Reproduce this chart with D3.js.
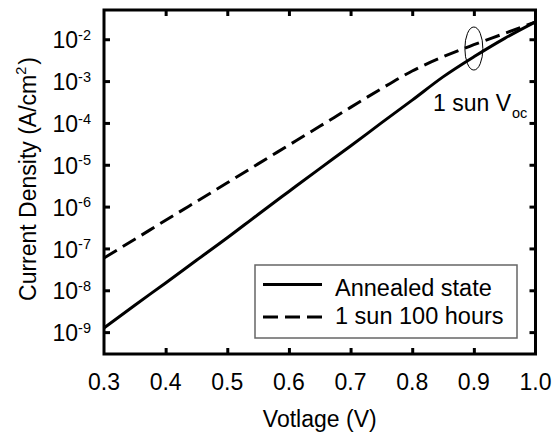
<!DOCTYPE html>
<html>
<head>
<meta charset="utf-8">
<script src="https://cdn.jsdelivr.net/npm/d3@7"></script>
<style>
  body { margin: 0; background: #fff; }
  text { font-family: "Liberation Sans", Arial, sans-serif; fill: #000; }
</style>
</head>
<body>
<svg id="chart" width="555" height="432"></svg>
<script>
// values
var voltage = [0.30, 0.35, 0.40, 0.45, 0.50, 0.55, 0.60, 0.65, 0.70, 0.75, 0.80, 0.85, 0.90, 0.95, 1.00];
var annealed = [1.26e-9, 4.4e-9, 1.5e-8, 5.2e-8, 1.8e-7, 6.5e-7, 2.3e-6, 8.1e-6, 2.8e-5, 1.0e-4, 3.5e-4, 1.26e-3, 3.8e-3, 1.05e-2, 2.6e-2];
var oneSun100h = [5.9e-8, 1.66e-7, 4.7e-7, 1.32e-6, 3.7e-6, 1.05e-5, 2.95e-5, 8.3e-5, 2.35e-4, 6.6e-4, 1.74e-3, 3.8e-3, 7.4e-3, 1.38e-2, 2.6e-2];
var xTicks = [0.3, 0.4, 0.5, 0.6, 0.7, 0.8, 0.9, 1.0];
var yExponents = [-9, -8, -7, -6, -5, -4, -3, -2];
var legendNames = ["Annealed state", "1 sun 100 hours"];

// plot box (note: "top" is a reserved window property, so use other names)
var pLeft = 104, pRight = 535.5, pTop = 10, pBottom = 354;
var svg = d3.select("#chart");

var x = d3.scaleLinear().domain([0.3, 1.0]).range([pLeft, pRight]);
var y = d3.scaleLog().domain([3e-10, 5e-2]).range([pBottom, pTop]);

// inward ticks on all four sides
svg.append("g").attr("transform", "translate(0," + pBottom + ")")
  .call(d3.axisBottom(x).tickValues(xTicks.slice(1, -1)).tickSize(-6).tickFormat(""));
svg.append("g").attr("transform", "translate(0," + pTop + ")")
  .call(d3.axisTop(x).tickValues(xTicks.slice(1, -1)).tickSize(-6).tickFormat(""));
var yTickVals = yExponents.map(function(e) { return Math.pow(10, e); });
svg.append("g").attr("transform", "translate(" + pLeft + ",0)")
  .call(d3.axisLeft(y).tickValues(yTickVals).tickSize(-6).tickFormat(""));
svg.append("g").attr("transform", "translate(" + pRight + ",0)")
  .call(d3.axisRight(y).tickValues(yTickVals).tickSize(-6).tickFormat(""));
svg.selectAll(".domain").remove();
svg.selectAll(".tick line").attr("stroke", "#000").attr("stroke-width", 3);

// frame
svg.append("rect")
  .attr("x", pLeft).attr("y", pTop)
  .attr("width", pRight - pLeft).attr("height", pBottom - pTop)
  .attr("fill", "none").attr("stroke", "#000").attr("stroke-width", 3);

// x tick labels
svg.selectAll(".xlab").data(xTicks).enter().append("text")
  .attr("class", "xlab")
  .attr("x", function(d) { return x(d); })
  .attr("y", 389.5)
  .attr("text-anchor", "middle")
  .attr("font-size", "23px")
  .text(function(d) { return d.toFixed(1); });

// y tick labels 10^n
var ylab = svg.selectAll(".ylab").data(yExponents).enter().append("text")
  .attr("class", "ylab")
  .attr("x", 91)
  .attr("y", function(d) { return y(Math.pow(10, d)) + 9.2; })
  .attr("text-anchor", "end")
  .attr("font-size", "23px");
ylab.append("tspan").text("10");
ylab.append("tspan").attr("font-size", "14.5px").attr("dy", -8.5).text(function(d) { return d; });

// axis titles
svg.append("text")
  .attr("x", (pLeft + pRight) / 2).attr("y", 426.5)
  .attr("text-anchor", "middle").attr("font-size", "23px")
  .text("Votlage (V)");
var yt = svg.append("text")
  .attr("transform", "translate(36,179) rotate(-90)")
  .attr("text-anchor", "middle").attr("font-size", "23px");
yt.append("tspan").text("Current Density (A/cm");
yt.append("tspan").attr("font-size", "14.5px").attr("dy", -10).text("2");
yt.append("tspan").attr("dy", 10).attr("dx", 2).text(")");

// curves
var line = d3.line()
  .x(function(d) { return x(d[0]); })
  .y(function(d) { return y(d[1]); })
  .curve(d3.curveMonotoneX);

svg.append("path")
  .datum(d3.zip(voltage, annealed))
  .attr("d", line)
  .attr("fill", "none").attr("stroke", "#000").attr("stroke-width", 3);
svg.append("path")
  .datum(d3.zip(voltage, oneSun100h))
  .attr("d", line)
  .attr("fill", "none").attr("stroke", "#000").attr("stroke-width", 3)
  .attr("stroke-dasharray", "15,7");

// 1 sun Voc annotation
svg.append("ellipse")
  .attr("cx", x(0.9)).attr("cy", y(6e-3))
  .attr("rx", 9).attr("ry", 21.5)
  .attr("fill", "none").attr("stroke", "#000").attr("stroke-width", 1);
var ann = svg.append("text")
  .attr("x", 433).attr("y", 111)
  .attr("font-size", "23px");
ann.append("tspan").text("1 sun V");
ann.append("tspan").attr("font-size", "14.5px").attr("dy", 7).attr("dx", 1).text("oc");

// legend
var lg = svg.append("g");
lg.append("rect")
  .attr("x", 255).attr("y", 265).attr("width", 262).attr("height", 73)
  .attr("fill", "#fff").attr("stroke", "#666").attr("stroke-width", 1.5);
lg.selectAll(".lgline").data(legendNames).enter().append("line")
  .attr("x1", 263).attr("x2", 322)
  .attr("y1", function(d, i) { return 284.5 + i * 32.5; })
  .attr("y2", function(d, i) { return 284.5 + i * 32.5; })
  .attr("stroke", "#000").attr("stroke-width", 3)
  .attr("stroke-dasharray", function(d, i) { return i ? "15,7" : null; });
lg.selectAll(".lgtext").data(legendNames).enter().append("text")
  .attr("x", 335)
  .attr("y", function(d, i) { return 295.8 + i * 28; })
  .attr("font-size", "23.5px")
  .text(function(d) { return d; });
</script>
</body>
</html>
